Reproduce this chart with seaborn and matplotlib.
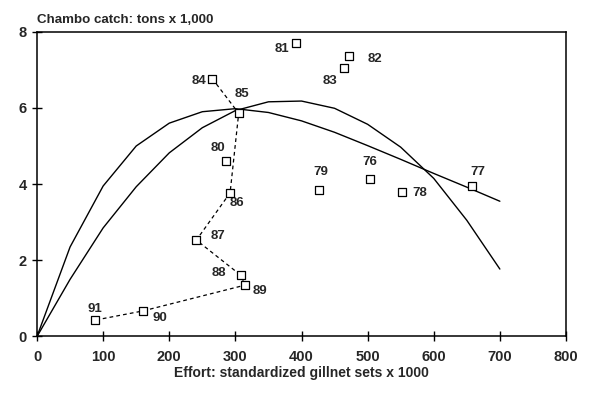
import matplotlib
matplotlib.use("Agg")
import matplotlib.pyplot as plt
import seaborn as sns
import pandas as pd

# yearly observations (effort in thousand gillnet sets, catch in thousand tons)
years = ['76', '77', '78', '79', '80', '81', '82', '83',
         '84', '85', '86', '87', '88', '89', '90', '91']
effort = [504, 658, 552, 426, 286, 392, 472, 465,
          265, 305, 292, 241, 308, 315, 160, 88]
catch = [4.13, 3.95, 3.80, 3.85, 4.61, 7.71, 7.36, 7.04,
         6.77, 5.86, 3.77, 2.53, 1.61, 1.35, 0.67, 0.43]

# years joined by the dashed trajectory
path_years = ['84', '85', '86', '87', '88', '89', '90', '91']

# fitted surplus production curves
curve_effort = [0, 50, 100, 150, 200, 250, 300, 350, 400, 450, 500, 550, 600, 650, 700]
curve_fox = [0, 2.35, 3.95, 5.0, 5.6, 5.9, 5.98, 5.88, 5.66, 5.36, 5.01, 4.65, 4.28, 3.92, 3.55]
curve_schaefer = [0, 1.5, 2.85, 3.93, 4.82, 5.48, 5.93, 6.16, 6.18, 5.99, 5.57, 4.97, 4.15, 3.05, 1.77]

x_ticks = [0, 100, 200, 300, 400, 500, 600, 700, 800]
y_ticks = [0, 2, 4, 6, 8]

# label offsets in pixels (right, up) from each marker
label_offsets = {
    '76': (0, 17), '77': (6, 14), '78': (18, -1), '79': (2, 18),
    '80': (-8, 13), '81': (-14, -6), '82': (26, -3), '83': (-14, -13),
    '84': (-13, -2), '85': (3, 19), '86': (7, -10), '87': (22, 4),
    '88': (-22, 2), '89': (15, -6), '90': (17, -7), '91': (0, 11),
}

sns.set_style("ticks")
plt.rcParams['font.family'] = ['Liberation Sans', 'DejaVu Sans']

df = pd.DataFrame({'year': years, 'effort': effort, 'catch': catch})
path = df.set_index('year').loc[path_years].reset_index()
curves = pd.DataFrame({'effort': curve_effort, 'fox': curve_fox, 'schaefer': curve_schaefer})

fig = plt.figure(figsize=(6, 3.93), dpi=100)
ax = fig.add_axes([0.0617, 0.1438, 0.8816, 0.7755])

sns.lineplot(data=curves, x='effort', y='fox', color='black', lw=1, ax=ax)
sns.lineplot(data=curves, x='effort', y='schaefer', color='black', lw=1, ax=ax)
sns.lineplot(data=path, x='effort', y='catch', sort=False, color='black', lw=0.9,
             linestyle=(0, (3, 2.5)), ax=ax)
sns.scatterplot(data=df, x='effort', y='catch', marker='s', s=30,
                facecolor='white', edgecolor='black', linewidth=0.9, zorder=5, ax=ax)

for yr, xv, yv in zip(years, effort, catch):
    dx, dy = label_offsets[yr]
    ax.annotate(yr, (xv, yv), xytext=(dx, dy), textcoords='offset pixels',
                ha='center', va='center', fontsize=9.5, fontweight='bold')

ax.set_xlim(0, 800)
ax.set_ylim(0, 8)
ax.set_xticks(x_ticks)
ax.set_yticks(y_ticks)
ax.tick_params(direction='inout', length=7, width=1, labelsize=10.5, color='black')
ax.tick_params(axis='x', pad=6)
ax.tick_params(axis='y', pad=4)
for lab in ax.get_xticklabels() + ax.get_yticklabels():
    lab.set_fontweight('bold')
for sp in ax.spines.values():
    sp.set_visible(True)
    sp.set_linewidth(1.1)
    sp.set_color('black')

ax.set_xlabel('Effort: standardized gillnet sets x 1000', fontsize=10,
              fontweight='bold', labelpad=2)
ax.set_ylabel('')
ax.text(0, 1.04, 'Chambo catch: tons x 1,000', transform=ax.transAxes,
        ha='left', va='center', fontsize=9.6, fontweight='bold')

fig.savefig('out.png', dpi=100)
plt.close(fig)
